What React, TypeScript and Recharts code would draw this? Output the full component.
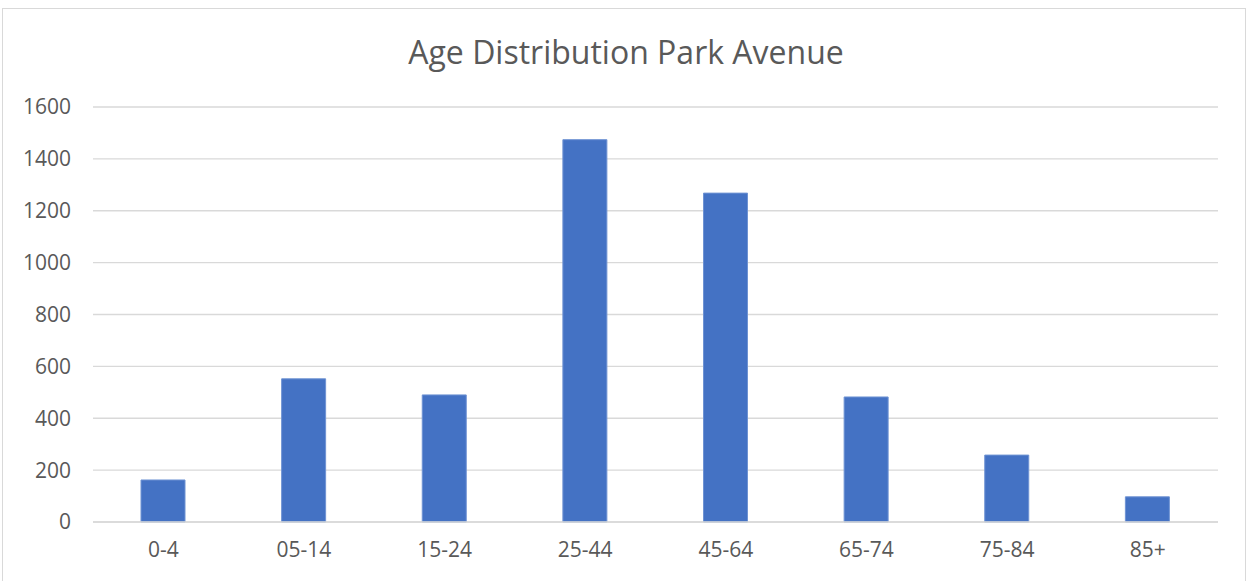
import { BarChart, Bar, XAxis, YAxis, CartesianGrid } from 'recharts';

const categories = ['0-4', '05-14', '15-24', '25-44', '45-64', '65-74', '75-84', '85+'];
const population = [162, 552, 490, 1474, 1268, 482, 258, 97];
const yTicks = [0, 200, 400, 600, 800, 1000, 1200, 1400, 1600];

const data = categories.map((age, i) => ({ age, value: population[i] }));

const FONT = '"Open Sans", sans-serif';
const TEXT = '#595959';

export default function App() {
  return (
    <div style={{ position: 'absolute', left: 0, top: 0, width: 1247, height: 581, background: '#fff', fontFamily: FONT }}>
      <div
        style={{
          position: 'absolute',
          left: 2,
          top: 8,
          width: 1244,
          height: 590,
          border: '1px solid #d9d9d9',
          boxSizing: 'border-box',
        }}
      />
      <div
        style={{
          position: 'absolute',
          left: 0,
          top: 30,
          width: 1252,
          textAlign: 'center',
          fontSize: 32,
          color: TEXT,
          lineHeight: '44px',
        }}
      >
        Age Distribution Park Avenue
      </div>
      <div style={{ position: 'absolute', left: 0, top: 0 }}>
        <BarChart width={1247} height={581} data={data} margin={{ top: 107, right: 29, bottom: 0, left: 0 }} barSize={44}>
          <CartesianGrid vertical={false} stroke="#d9d9d9" strokeWidth={1.3} />
          <XAxis
            dataKey="age"
            height={59}
            axisLine={{ stroke: '#d9d9d9', strokeWidth: 1.3 }}
            tickLine={false}
            tickSize={0}
            tickMargin={20}
            tick={{ fill: TEXT, fontSize: 21, fontFamily: FONT }}
            interval={0}
          />
          <YAxis
            width={93}
            domain={[0, 1600]}
            ticks={yTicks}
            axisLine={false}
            tickLine={false}
            tickSize={0}
            tickMargin={22}
            tick={{ fill: TEXT, fontSize: 21, fontFamily: FONT }}
          />
          <Bar dataKey="value" fill="#4472c4" stroke="#6f93d3" strokeWidth={1} isAnimationActive={false} />
        </BarChart>
      </div>
    </div>
  );
}
